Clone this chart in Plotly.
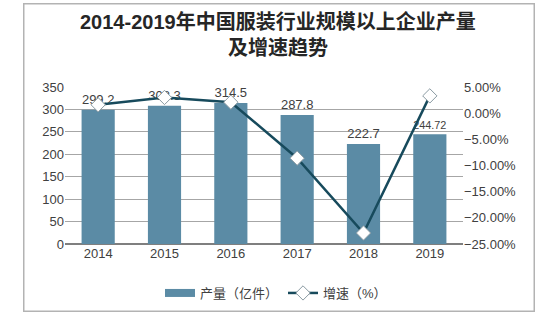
import plotly.graph_objects as go

years = ["2014", "2015", "2016", "2017", "2018", "2019"]
output = [299.2, 308.3, 314.5, 287.8, 222.7, 244.72]
output_labels = ["299.2", "308.3", "314.5", "287.8", "222.7", "244.72"]
growth = [1.6, 3.0, 2.1, -8.6, -22.9, 3.3]
title_lines = ["2014-2019年中国服装行业规模以上企业产量", "及增速趋势"]

W, H = 550, 322
L, R, T, B = 65, 463, 87, 244

def px(x):
    return (x - L) / (R - L)

def py(y):
    return (B - y) / (B - T)

txt = "#404040"
fam = "Liberation Sans, Arial, Noto Sans CJK SC, sans-serif"
bar_color = "#5b8ba5"

fig = go.Figure()
fig.add_trace(go.Bar(
    x=years, y=output, name="产量（亿件）", showlegend=False,
    marker=dict(color=bar_color, line=dict(width=0)),
    width=0.5,
    text=output_labels, textposition="outside", cliponaxis=False,
    textfont=dict(size=13, color=txt, family=fam),
))
# legend swatch for bars (wide rectangle as in reference)
fig.add_trace(go.Scatter(
    x=[None], y=[None], name="产量（亿件）", mode="lines",
    line=dict(color=bar_color, width=8),
))
fig.add_trace(go.Scatter(
    x=years, y=growth, name="增速（%）", yaxis="y2", mode="lines+markers",
    line=dict(color="#174a5c", width=2.5),
    marker=dict(symbol="diamond", size=11, color="white",
                line=dict(color="#8a9aa2", width=1)),
))

fig.update_layout(
    width=W, height=H,
    margin=dict(l=L, r=W - R, t=T, b=H - B, autoexpand=False),
    paper_bgcolor="white", plot_bgcolor="white",
    font=dict(family=fam, size=13, color=txt),
    bargap=0.5,
    xaxis=dict(showgrid=False, ticks="", showline=False,
               tickfont=dict(size=13, color=txt)),
    yaxis=dict(range=[0, 350], dtick=50, showgrid=True, gridcolor="#a6a6a6",
               gridwidth=1, zeroline=True, zerolinecolor="#7f7f7f", zerolinewidth=1.5,
               showline=False, ticks="", tickfont=dict(size=13, color=txt)),
    yaxis2=dict(range=[-25, 5], dtick=5, overlaying="y", side="right",
                showgrid=False, zeroline=False, showline=False, ticks="",
                tickformat=".2f", ticksuffix="%",
                tickfont=dict(size=13, color=txt)),
    legend=dict(orientation="h", x=px(276), xanchor="center",
                y=py(293), yanchor="middle",
                font=dict(size=13, color=txt),
                bgcolor="rgba(0,0,0,0)"),
    showlegend=True,
)

for line_text, ypix in zip(title_lines, [21, 48]):
    fig.add_annotation(
        text="<b>" + line_text + "</b>", xref="paper", yref="paper",
        x=px(278), y=py(ypix), xanchor="center", yanchor="middle",
        showarrow=False,
        font=dict(size=20, color="#262626", family=fam),
    )

# outer frame drawn as an empty bordered annotation box
fig.add_annotation(
    text=" ", xref="paper", yref="paper",
    x=px(279), y=py(157.5), xanchor="center", yanchor="middle",
    showarrow=False, width=509, height=306, borderpad=0,
    bordercolor="#b3b3b3", borderwidth=1.5, bgcolor="rgba(0,0,0,0)",
)

fig.write_html("out.html")
